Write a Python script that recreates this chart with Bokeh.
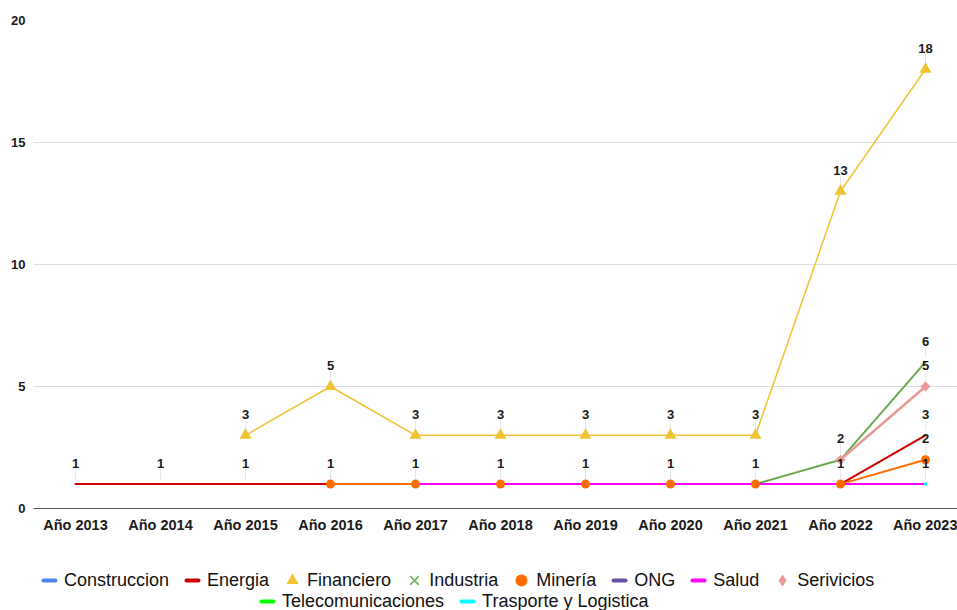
import math
from bokeh.plotting import figure
from bokeh.layouts import column
from bokeh.models import ColumnDataSource, Range1d, FixedTicker, Legend, LegendItem
from bokeh.core.properties import value
from bokeh.embed import file_html
from bokeh.resources import INLINE

NaN = float("nan")

# ---------------- data ----------------
years = ["Año 2013", "Año 2014", "Año 2015", "Año 2016", "Año 2017", "Año 2018",
         "Año 2019", "Año 2020", "Año 2021", "Año 2022", "Año 2023"]
construccion = [NaN, NaN, NaN, NaN, NaN, NaN, NaN, 1, 1, 1, 1]
energia = [1, 1, 1, 1, 1, 1, 1, 1, 1, 1, 3]
financiero = [NaN, NaN, 3, 5, 3, 3, 3, 3, 3, 13, 18]
industria = [NaN, NaN, NaN, NaN, NaN, NaN, NaN, NaN, 1, 2, 6]
mineria = [NaN, NaN, NaN, 1, 1, 1, 1, 1, 1, 1, 2]
ong = [NaN, NaN, NaN, NaN, NaN, NaN, 1, 1, 1, 1, 1]
salud = [NaN, NaN, NaN, NaN, 1, 1, 1, 1, 1, 1, 1]
servicios = [NaN, NaN, NaN, NaN, NaN, NaN, NaN, NaN, NaN, 2, 5]
telecomunicaciones = [NaN, NaN, NaN, NaN, NaN, NaN, NaN, NaN, NaN, 1, NaN]
trasporte = [NaN, NaN, NaN, NaN, NaN, NaN, NaN, NaN, NaN, NaN, 1]
y_ticks = [0, 5, 10, 15, 20]

# name, values, color, line width, chart marker, chart marker size, legend marker
series = [
    ("Construccion", construccion, "#4a86e8", 2, None, 0, "dash"),
    ("Energia", energia, "#cc0000", 2, None, 0, "dash"),
    ("Financiero", financiero, "#f1c232", 1.5, "triangle", 12, "triangle"),
    ("Industria", industria, "#6aa84f", 2, None, 0, "x"),
    ("Minería", mineria, "#ff6d01", 2, "circle", 9, "circle"),
    ("ONG", ong, "#674ea7", 2, None, 0, "dash"),
    ("Salud", salud, "#ff00ff", 2, None, 0, "dash"),
    ("Serivicios", servicios, "#ea9999", 2.5, "square", 7, "diamond"),
    ("Telecomunicaciones", telecomunicaciones, "#00ff00", 2, None, 0, "dash"),
    ("Trasporte y Logistica", trasporte, "#00ffff", 2, None, 0, "dash"),
]

FONT = "Liberation Sans"
W = 957
H_MAIN, H_LEG = 536, 74
LEFT, TOP, BOTTOM = 33, 20, 28
x_lo = -0.494
x_hi = x_lo + (W - LEFT) / 85.0
y_lo, y_hi = 0, 20
px_per_unit = (H_MAIN - TOP - BOTTOM) / (y_hi - y_lo)

p = figure(width=W, height=H_MAIN, x_range=Range1d(x_lo, x_hi), y_range=Range1d(y_lo, y_hi),
           output_backend="svg", toolbar_location=None,
           min_border_left=LEFT, min_border_right=0, min_border_top=TOP,
           min_border_bottom=BOTTOM)
p.outline_line_color = None
p.background_fill_color = "white"
p.border_fill_color = "white"

# axes
xs = list(range(len(years)))
p.xaxis.ticker = FixedTicker(ticks=xs)
p.xaxis.major_label_overrides = {i: years[i] for i in xs}
p.xaxis.major_tick_line_color = None
p.xaxis.minor_tick_line_color = None
p.xaxis.major_tick_out = 0
p.xaxis.major_tick_in = 0
p.xaxis.major_label_standoff = 8
p.xaxis.axis_line_color = "#555555"
p.xaxis.axis_line_width = 1
p.xaxis.major_label_text_font = FONT
p.xaxis.major_label_text_font_style = "bold"
p.xaxis.major_label_text_font_size = "14.5px"
p.xaxis.major_label_text_color = "#1a1a1a"

p.yaxis.ticker = FixedTicker(ticks=y_ticks)
p.yaxis.axis_line_color = None
p.yaxis.major_tick_line_color = None
p.yaxis.minor_tick_line_color = None
p.yaxis.major_tick_out = 0
p.yaxis.major_tick_in = 0
p.yaxis.major_label_standoff = 8
p.yaxis.major_label_text_font = FONT
p.yaxis.major_label_text_font_style = "bold"
p.yaxis.major_label_text_font_size = "13px"
p.yaxis.major_label_text_color = "#1a1a1a"

p.xgrid.grid_line_color = None
p.ygrid.ticker = FixedTicker(ticks=y_ticks)
p.ygrid.grid_line_color = "#dcdcdc"
p.ygrid.grid_line_width = 1

# ---------------- data labels (unique value per year) ----------------
lab_x, lab_y, lab_t = [], [], []
for i in xs:
    vals = set()
    for _, vs, *_ in series:
        v = vs[i]
        if not math.isnan(v):
            vals.add(v)
    for v in sorted(vals):
        lab_x.append(i)
        lab_y.append(v)
        lab_t.append(str(int(v)))
lab_src = ColumnDataSource(dict(
    x=lab_x, y=lab_y, t=lab_t,
    y0=[v + 5 / px_per_unit for v in lab_y],
    y1=[v + 15 / px_per_unit for v in lab_y],
))
p.segment(x0="x", x1="x", y0="y0", y1="y1", source=lab_src,
          line_color="#e6e6e6", line_width=1)

# ---------------- lines ----------------
for name, vs, color, lw, mk, ms, lmk in series:
    p.line(xs, vs, line_color=color, line_width=lw, line_cap="round", line_join="round")

# isolated points of line-only series
for name, vs, color, lw, mk, ms, lmk in series:
    if mk is not None:
        continue
    px, py = [], []
    for i, v in enumerate(vs):
        if math.isnan(v):
            continue
        left = vs[i - 1] if i > 0 else NaN
        right = vs[i + 1] if i < len(vs) - 1 else NaN
        if math.isnan(left) and math.isnan(right):
            px.append(i)
            py.append(v)
    if px:
        p.scatter(px, py, marker="circle", size=lw + 1.5, fill_color=color, line_color=None)

# markers
for name, vs, color, lw, mk, ms, lmk in series:
    if mk is None:
        continue
    px = [i for i, v in enumerate(vs) if not math.isnan(v)]
    py = [vs[i] for i in px]
    ang = math.pi / 4 if mk == "square" else 0
    p.scatter(px, py, marker=mk, size=ms, angle=ang, fill_color=color, line_color=None)

# data label texts
p.text(x="x", y="y", text="t", source=lab_src, text_align="center", text_baseline="middle",
       y_offset=-21, text_font=value(FONT), text_font_style="bold",
       text_font_size="13px", text_color="#1a1a1a")

# ---------------- legend (separate strip below the chart) ----------------
lf = figure(width=W, height=H_LEG, x_range=Range1d(0, W), y_range=Range1d(0, H_LEG),
            output_backend="svg", toolbar_location=None,
            x_axis_type=None, y_axis_type=None, min_border=0)
lf.outline_line_color = None
lf.xgrid.grid_line_color = None
lf.ygrid.grid_line_color = None
lf.background_fill_color = "white"
lf.border_fill_color = "white"

items = []
for name, vs, color, lw, mk, ms, lmk in series:
    if lmk == "dash":
        r = lf.scatter([NaN], [NaN], marker="dash", size=10, line_color=color,
                       line_width=4, line_cap="round")
    elif lmk == "x":
        r = lf.scatter([NaN], [NaN], marker="x", size=10, line_color=color, line_width=1.5)
    else:
        r = lf.scatter([NaN], [NaN], marker=lmk, size=10, fill_color=color, line_color=None)
    items.append(LegendItem(label=name, renderers=[r]))

common = dict(orientation="horizontal", glyph_width=30, glyph_height=30, label_height=30,
              label_standoff=0, spacing=8, padding=0, margin=0,
              border_line_color=None, background_fill_alpha=0,
              label_text_font=FONT, label_text_font_size="18px",
              label_text_color="#111111")
# positions are relative to the legend strip's frame, which is aligned with the chart frame
leg1 = Legend(items=items[:8], location=(1, 15), **common)
leg2 = Legend(items=items[8:], location=(219, -6), **common)
lf.add_layout(leg1)
lf.add_layout(leg2)

layout = column(p, lf, spacing=0)
open("out.html", "w").write(file_html(layout, INLINE))
